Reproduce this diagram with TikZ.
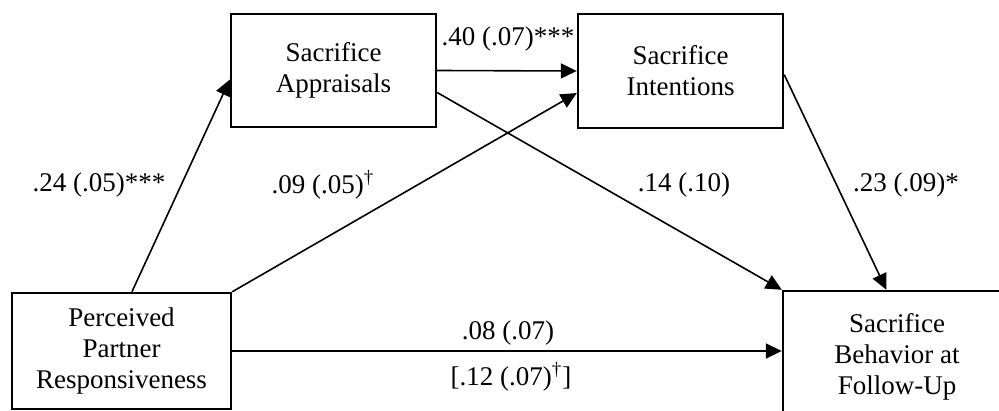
\documentclass[tikz,border=0pt]{standalone}
\usepackage{fontspec}
\setmainfont{Liberation Serif}
\usetikzlibrary{arrows.meta}
\begin{document}
\begin{tikzpicture}[x=0.5pt, y=-0.5pt,
    var/.style={draw, line width=1.2pt, align=center, inner sep=0pt, font=\fontsize{13.5}{15.5}\selectfont},
    effect/.style={-{Triangle[length=8pt,width=7.5pt]}, line width=0.8pt},
    coef/.style={inner sep=0pt, font=\fontsize{13.5}{15.5}\selectfont}]
\clip (0, 0) rectangle (999, 411);
\node (app) at (333.5, 70.5) [var, minimum width=102.5pt, minimum height=56.5pt] {Sacrifice\\Appraisals};
\node (int) at (680.5, 71) [var, minimum width=102.5pt, minimum height=57pt] {Sacrifice\\Intentions};
\node (ppr) at (121.5, 351) [var, minimum width=109.5pt, minimum height=58pt] {Perceived\\Partner\\Responsiveness};
\node (beh) at (897, 357) [var, minimum width=114pt, minimum height=66pt] {Sacrifice\\Behavior at\\Follow-Up};

\draw[effect] (ppr.80) -- (app.185);
\draw[effect] (ppr.north east) -- (int.192);
\draw[effect] (app.east) -- (int.west);
\draw[effect] (app.-12) -- (beh.north west);
\draw[effect] (int.-2) -- (beh.99);
\draw[effect] (ppr.east) -- (ppr.east -| beh.west);

\node (c1) at (99, 185) [coef] {.24 (.05)***};
\node (c2) at (323, 185) [coef] {.09 (.05)\textsuperscript{\textdagger}};
\node (c3) at (508, 39) [coef] {.40 (.07)***};
\node (c4) at (684, 185) [coef] {.14 (.10)};
\node (c5) at (906, 185) [coef] {.23 (.09)*};
\node (c6) at (508, 333) [coef] {.08 (.07)};
\node (c7) at (511, 377) [coef] {[.12 (.07)\textsuperscript{\textdagger}]};
\end{tikzpicture}
\end{document}
